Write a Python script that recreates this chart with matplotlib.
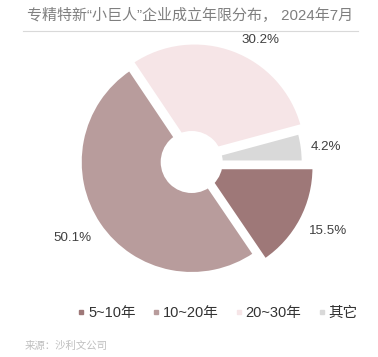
import numpy as np
import matplotlib
matplotlib.use("Agg")
import matplotlib.pyplot as plt
from matplotlib.patches import Circle
from matplotlib.lines import Line2D

# ---- data ----
categories = ["5~10年", "10~20年", "20~30年", "其它"]
values = [15.5, 50.1, 30.2, 4.2]
value_labels = ["15.5%", "50.1%", "30.2%", "4.2%"]
title = "专精特新“小巨人”企业成立年限分布， 2024年7月"
source = "来源：沙利文公司"

# ---- style ----
colors = ["#9e7878", "#b89c9c", "#f6e5e7", "#d9d9d9"]
explode_px = [12.2, 0, 8, 0]
label_dist = [1.26, 1.27, 1.19, 1.21]
label_ang_tweak = [1.0, -1.5, -9.5, -1.0]

W, H = 378, 357
fig = plt.figure(figsize=(W / 100, H / 100), dpi=100)
ax = fig.add_axes([0, 0, 1, 1])

cx, cy = 191.7, H - 162
R = 111.5
wedges, _ = ax.pie(values, colors=colors, startangle=0, counterclock=False,
                   center=(cx, cy), radius=R, explode=explode_px,
                   wedgeprops=dict(edgecolor="white", linewidth=2.2),
                   frame=True)
ax.set_xlim(0, W)
ax.set_ylim(0, H)
ax.set_aspect("equal")
ax.axis("off")
ax.add_patch(Circle((cx, cy), 31, facecolor="white", edgecolor="none", zorder=5))

lab_font = ["Liberation Sans Narrow", "Liberation Sans", "DejaVu Sans"]
for w, lab, d, ld, tw in zip(wedges, value_labels, explode_px, label_dist, label_ang_tweak):
    th = np.deg2rad(0.5 * (w.theta1 + w.theta2))
    ex = cx + d * np.cos(th)
    ey = cy + d * np.sin(th)
    tt = th + np.deg2rad(tw)
    ax.text(ex + ld * R * np.cos(tt), ey + ld * R * np.sin(tt), lab,
            ha="center", va="center", fontsize=9.6, color="#404040",
            family=lab_font)

cjk = ["Liberation Sans", "Noto Sans CJK SC"]
fig.text(27 / W, 1 - 16 / H, title, ha="left", va="center", fontsize=10.8,
         color="#7f7f7f", family=cjk)
fig.add_artist(Line2D([23 / W, 358 / W], [1 - 31 / H, 1 - 31 / H],
                      color="#d9d9d9", linewidth=0.8, transform=fig.transFigure))

handles = [Line2D([], [], marker="s", linestyle="none", markersize=3,
                  markerfacecolor=c, markeredgecolor=c) for c in colors]
fig.legend(handles, categories, loc="center", bbox_to_anchor=(218 / W, 1 - 313 / H),
           ncol=4, frameon=False, handlelength=0.4,
           handletextpad=0.25, columnspacing=1.2, borderpad=0,
           prop=dict(family=cjk, size=10.5), labelcolor="#333333")

fig.text(25 / W, 1 - 346 / H, source, ha="left", va="center", fontsize=7.5,
         color="#bfbfbf", family=["Noto Sans CJK SC"])

fig.savefig("out.png", dpi=100)
